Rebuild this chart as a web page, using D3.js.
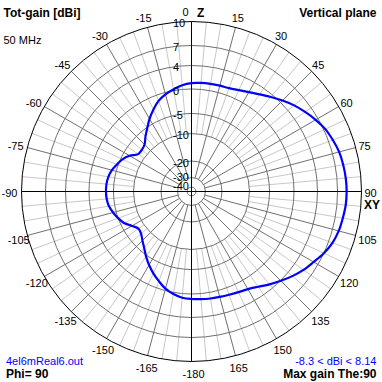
<!DOCTYPE html>
<html><head><meta charset="utf-8">
<script src="https://cdn.jsdelivr.net/npm/d3@7"></script>
<style>html,body{margin:0;padding:0;background:#fff;}svg{display:block;}</style>
</head><body>
<svg id="c" width="382" height="382"></svg>
<script>
// ---- data ----
const angles = [-180,-175,-170,-165,-160,-155,-150,-145,-140,-135,-130,-125,-120,-115,-110,-105,-100,-95,
  -90,-85,-80,-75,-70,-65,-60,-55,-50,-45,-40,-35,-30,-25,-20,-15,-10,-5,
  0,5,10,15,20,25,30,35,40,45,50,55,60,65,70,75,80,85,
  90,95,100,105,110,115,120,125,130,135,140,145,150,155,160,165,170,175];
const gainDbi = [0.85,0.7,0.28,-0.4,-1.45,-2.5,-3.6,-4.75,-6.1,-7.15,-8.05,-8.3,-7.3,-5.9,-5.0,-4.35,-3.8,-3.55,
  -3.47,-3.5,-3.7,-4.1,-4.75,-5.45,-6.6,-8.2,-8.3,-7.9,-6.6,-5.2,-3.8,-2.5,-1.25,-0.38,0.2,0.7,
  1.0,1.1,1.15,1.2,1.28,1.6,2.1,2.75,3.55,4.4,5.2,5.9,6.6,7.2,7.55,7.85,8.0,8.1,
  8.14,8.1,7.95,7.8,7.5,7.0,6.25,5.6,4.85,4.05,3.2,2.35,1.75,1.45,1.25,1.12,1.05,0.95];
const ringTicks = [10,7,4,0,-5,-10,-20,-30,-40];
const angleTicks = [-180,-165,-150,-135,-120,-105,-90,-75,-60,-45,-30,-15,0,15,30,45,60,75,90,105,120,135,150,165];
const titleText = "Tot-gain [dBi]";
const planeText = "Vertical plane";
const freqText = "50 MHz";
const fileText = "4el6mReal6.out";
const phiText = "Phi= 90";
const rangeText = "-8.3 < dBi < 8.14";
const maxText = "Max gain The:90";

// ---- layout ----
const cx = 191.5, cy = 191.5, R = 170;
const ringFrac = [1, 0.859, 0.741, 0.603, 0.459, 0.341, 0.179, 0.082, 0.026];
const r = d3.scaleLinear().domain(ringTicks.slice().reverse()).range(ringFrac.slice().reverse().map(f => f * R));
const FONT = "'Liberation Sans', Arial, sans-serif";
const svg = d3.select("#c");
const g = svg.append("g").attr("transform", `translate(${cx},${cy})`);
const rad = a => a * Math.PI / 180;

// light 5-degree radial lines
const fine = d3.range(0, 360, 5).filter(a => a % 15 !== 0);
g.selectAll("line.fine").data(fine).join("line")
  .attr("x1", a => r(-10) * Math.sin(rad(a))).attr("y1", a => -r(-10) * Math.cos(rad(a)))
  .attr("x2", a => R * Math.sin(rad(a))).attr("y2", a => -R * Math.cos(rad(a)))
  .attr("stroke", "#c8c8c8").attr("stroke-width", 1);
// dark 15-degree radial lines
const major = d3.range(0, 360, 15).filter(a => a % 90 !== 0);
g.selectAll("line.major").data(major).join("line")
  .attr("x1", a => r(-30) * Math.sin(rad(a))).attr("y1", a => -r(-30) * Math.cos(rad(a)))
  .attr("x2", a => R * Math.sin(rad(a))).attr("y2", a => -R * Math.cos(rad(a)))
  .attr("stroke", "#707070").attr("stroke-width", 1);
// rings
g.selectAll("circle.ring").data(ringTicks.filter(t => t !== 10)).join("circle")
  .attr("r", t => r(t)).attr("fill", "none").attr("stroke", "#707070").attr("stroke-width", 1);
// axes
g.append("line").attr("x1", 0).attr("x2", 0).attr("y1", -R).attr("y2", R).attr("stroke", "#000");
g.append("line").attr("y1", 0).attr("y2", 0).attr("x1", -R).attr("x2", R).attr("stroke", "#000");
g.append("circle").attr("r", R).attr("fill", "none").attr("stroke", "#000").attr("stroke-width", 1);

// pattern curve
const pts = angles.map((a, i) => ({a, v: gainDbi[i]}));
const line = d3.lineRadial().angle(d => rad(d.a)).radius(d => r(d.v)).curve(d3.curveCatmullRomClosed);
g.append("path").attr("d", line(pts)).attr("fill", "none").attr("stroke", "#0000ff").attr("stroke-width", 2.2);

// ring labels
g.selectAll("text.ring").data(ringTicks).join("text")
  .attr("x", -18.5).attr("y", t => -r(t) + (t <= -30 ? 3.2 : 5.5))
  .attr("font-family", FONT).attr("font-size", 11).attr("fill", "#000")
  .text(t => t);

// angle labels
angleTicks.forEach(a => {
  const s = Math.sin(rad(a)), c = Math.cos(rad(a));
  const px = R * s, py = -R * c;
  const t = g.append("text").attr("font-family", FONT).attr("font-size", 11).attr("fill", "#000").text(a);
  const w = t.node().getComputedTextLength();
  let x;
  if (s > 0.01) x = px + s * (w / 2 + 3) - w / 2;
  else x = px - 9 - 11 * Math.abs(s);
  const yc = py + 2.25 - 10.75 * c;
  t.attr("x", x).attr("y", yc + 3.25);
});
// Z and XY
g.append("text").attr("x", 5.5).attr("y", -R - 4.5).attr("font-family", FONT).attr("font-size", 12)
  .attr("font-weight", "bold").text("Z");
g.append("text").attr("x", R + 2.5).attr("y", 17).attr("font-family", FONT).attr("font-size", 12)
  .attr("font-weight", "bold").text("XY");

// corner texts
const txt = (x, y, s, opts) => svg.append("text").attr("x", x).attr("y", y).attr("font-family", FONT)
  .attr("font-size", opts.size).attr("font-weight", opts.bold ? "bold" : "normal")
  .attr("fill", opts.color || "#000").attr("text-anchor", opts.anchor || "start").text(s);
txt(3.5, 16.5, titleText, {size: 12, bold: true});
txt(376.5, 16.5, planeText, {size: 12, bold: true, anchor: "end"});
txt(3.5, 43.5, freqText, {size: 11});
txt(6, 365, fileText, {size: 11, color: "#0000ff"});
txt(6, 378, phiText, {size: 12, bold: true});
txt(376.5, 365, rangeText, {size: 11, color: "#0000ff", anchor: "end"});
txt(376.5, 378, maxText, {size: 12, bold: true, anchor: "end"});
</script>
</body></html>
